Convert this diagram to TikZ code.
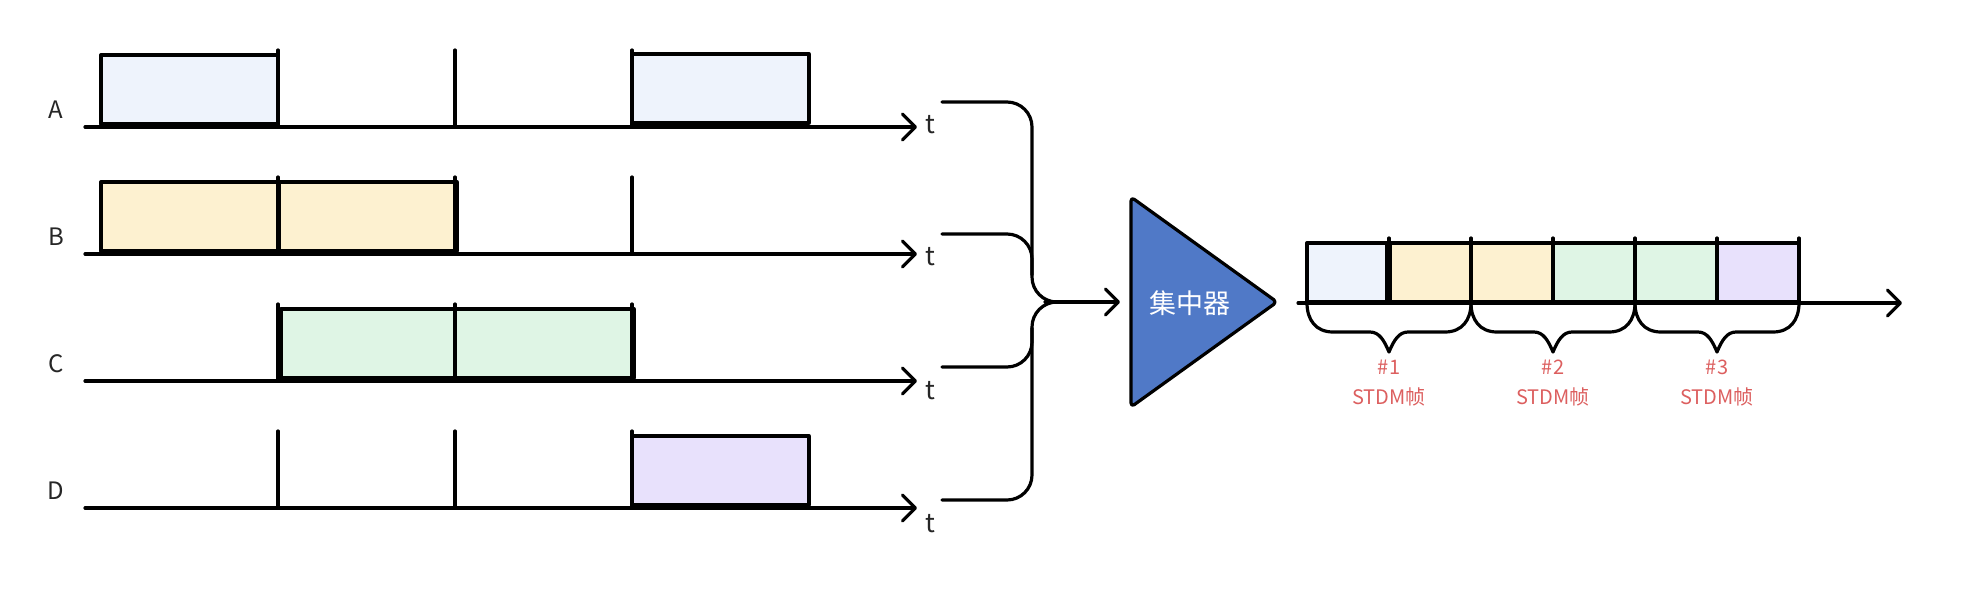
\documentclass[tikz,border=0pt]{standalone}
\usepackage{fontspec}
\setmainfont{Noto Sans CJK SC}
\usetikzlibrary{arrows.meta}
\definecolor{cA}{HTML}{EEF3FC}
\definecolor{cB}{HTML}{FDF1D0}
\definecolor{cC}{HTML}{DFF5E5}
\definecolor{cD}{HTML}{E8E1FC}
\definecolor{triblue}{HTML}{5079C7}
\definecolor{lblred}{HTML}{DC5F5F}
\definecolor{ink}{HTML}{262626}
\tikzset{
  ln/.style={line width=3.2pt, line cap=round, line join=round},
  axisln/.style={ln, -{Straight Barb[length=13pt,width=26pt,line cap=round,line join=round]}},
  slot/.style={draw, line width=3.3pt, line join=round},
  rowlbl/.style={font=\fontsize{24}{28}\selectfont, text=ink, inner sep=0pt},
  tlbl/.style={font=\fontsize{26}{30}\selectfont, text=ink, inner sep=0pt},
  framelbl/.style={font=\fontsize{20}{24}\selectfont, text=lblred, inner sep=0pt},
  conn/.style={ln, rounded corners=25pt},
}
\begin{document}
\begin{tikzpicture}[x=1pt,y=-1pt]
\useasboundingbox (0,0) rectangle (1966,590);
% ---------- rows ----------
% boxes
\path[slot, fill=cA] (101,55) rectangle (278,124);
\path[slot, fill=cA] (632,54) rectangle (809,123);
\path[slot, fill=cB] (101,182) rectangle (278,251);
\path[slot, fill=cB] (279,182) rectangle (457,251);
\path[slot, fill=cC] (281,309) rectangle (455,378);
\path[slot, fill=cC] (455,309) rectangle (634,378);
\path[slot, fill=cD] (632,436) rectangle (809,505);
% ticks, axes, labels
\foreach \r/\y/\ty in {A/127/125, B/254/257, C/381/391, D/508/524}{
  \foreach \x in {278,455,632}{
    \draw[ln] (\x,\y-77) -- (\x,\y);
  }
  \coordinate (\r-s) at (85,\y);
  \coordinate (\r-e) at (917,\y);
  \draw[axisln] (\r-s) -- (\r-e);
  \node[rowlbl] (\r-lbl) at (56,\y-17) {\r};
  \node[tlbl] (\r-t) at (930,\ty) {t};
}
% ---------- connectors ----------
\coordinate (A-c) at (942,102);
\coordinate (B-c) at (942,234);
\coordinate (C-c) at (942,367);
\coordinate (D-c) at (942,500);
\coordinate (J) at (1058,302);
\coordinate (Bm) at (1032,275);
\coordinate (Cm) at (1032,328);
\draw[conn] (A-c) -| (1032,302) -- (J);
\draw[conn] (B-c) -| (Bm);
\draw[conn] (C-c) -| (Cm);
\draw[conn] (D-c) -| (1032,302) -- (J);
% ---------- concentrator ----------
\draw[ln, fill=triblue, rounded corners=4pt] (1131,197) -- (1277,302) -- (1131,407) -- cycle;
\coordinate (tri-w) at (1131,302);
\coordinate (tri-e) at (1277,302);
\node[font=\fontsize{27}{30}\selectfont, text=white, inner sep=0pt] (conc) at (1190,303) {集中器};
\draw[axisln] (1045,302) -- ([xshift=-11pt]tri-w);
% ---------- output frame ----------
\path[slot, fill=cA] (1307,243) rectangle (1387,302);
\path[slot, fill=cB] (1390,243) rectangle (1471,302);
\path[slot, fill=cB] (1471,243) rectangle (1553,302);
\path[slot, fill=cC] (1553,243) rectangle (1635,302);
\path[slot, fill=cC] (1635,243) rectangle (1717,302);
\path[slot, fill=cD] (1717,243) rectangle (1799,302);
\foreach \x in {1389,1471,1553,1635,1717,1799}{
  \draw[ln] (\x,238) -- (\x,302);
}
\coordinate (out-s) at (1298,303);
\coordinate (out-e) at (1902,303);
\draw[axisln] (out-s) -- (out-e);
% braces
\foreach \a/\n in {1307/1, 1471/2, 1635/3}{
  \pgfmathsetmacro{\m}{\a+82}
  \pgfmathsetmacro{\b}{\a+164}
  \draw[ln] (\a,303) .. controls (\a,320) and (\a+9,332) .. (\a+26,332)
    -- (\m-19,332) .. controls (\m-10,332) and (\m-5,340) .. (\m,352)
    .. controls (\m+5,340) and (\m+10,332) .. (\m+19,332)
    -- (\b-26,332) .. controls (\b-9,332) and (\b,320) .. (\b,303);
  \node[framelbl] (f\n-num) at (\m,367) {\#\n};
  \node[framelbl] (f\n-name) at (\m,397) {STDM帧};
}
\end{tikzpicture}
\end{document}
